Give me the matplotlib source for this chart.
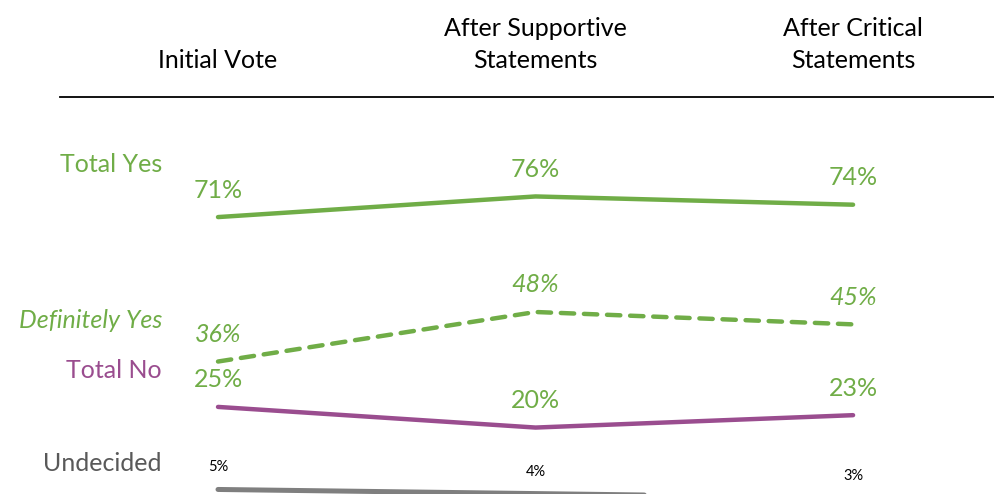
import matplotlib
matplotlib.use("Agg")
import matplotlib.pyplot as plt

plt.rcParams['font.family'] = ['Lato', 'DejaVu Sans']

categories = ["Initial Vote", "After Supportive\nStatements", "After Critical\nStatements"]
series_names = ["Total Yes", "Definitely Yes", "Total No", "Undecided"]
total_yes = [71, 76, 74]
definitely_yes = [36, 48, 45]
total_no = [25, 20, 23]
undecided = [5, 4, 3]

GREEN = "#70AD47"
PURPLE = "#9A4D8F"
GRAY = "#7F7F7F"
DARKGRAY = "#595959"

W, H, DPI = 995, 494, 100
fig = plt.figure(figsize=(W / DPI, H / DPI), dpi=DPI)
ax = fig.add_axes([0, 0, 1, 1])
ax.set_xlim(-0.6866, 2.447)
ax.set_ylim(3.9, 123.6)
ax.axis('off')

x = list(range(len(categories)))

ax.plot(x, total_yes, color=GREEN, lw=3.2, solid_capstyle='round')
ax.plot(x, definitely_yes, color=GREEN, lw=3.2, ls=(0, (3, 2.2)), dash_capstyle='round')
ax.plot(x, total_no, color=PURPLE, lw=3.2, solid_capstyle='round')
ax.plot(x, undecided, color=GRAY, lw=3.6, solid_capstyle='round')

big = 18
def vlabels(vals, color, style='normal', size=big, off=27):
    for xi, v in zip(x, vals):
        ax.annotate(f"{v}%", (xi, v), xytext=(0, off), textcoords='offset pixels',
                    ha='center', va='center', fontsize=size, color=color,
                    style=style, annotation_clip=False)

vlabels(total_yes, GREEN)
vlabels(definitely_yes, GREEN, style='italic')
vlabels(total_no, GREEN)
vlabels(undecided, 'black', size=10.5, off=22)

# Header rule
ax.axhline(100, xmin=60 / W, xmax=1, color='black', lw=1.3)

# Column headers
for xi, c in zip(x, categories):
    ax.annotate(c, (xi, 100), xytext=(0, 25), textcoords='offset pixels',
                ha='center', va='bottom', fontsize=big, color='black', linespacing=1.5)

# Series names on the left
def px(xp, yp):
    return xp / W, 1 - yp / H

lab_pos = [(165, GREEN, 'normal'), (320, GREEN, 'italic'), (370, PURPLE, 'normal'), (463, DARKGRAY, 'normal')]
for name, (yp, col, st) in zip(series_names, lab_pos):
    fig.text(*px(162, yp), name, ha='right', va='center', fontsize=big, color=col, style=st)

fig.savefig("out.png", dpi=DPI)
